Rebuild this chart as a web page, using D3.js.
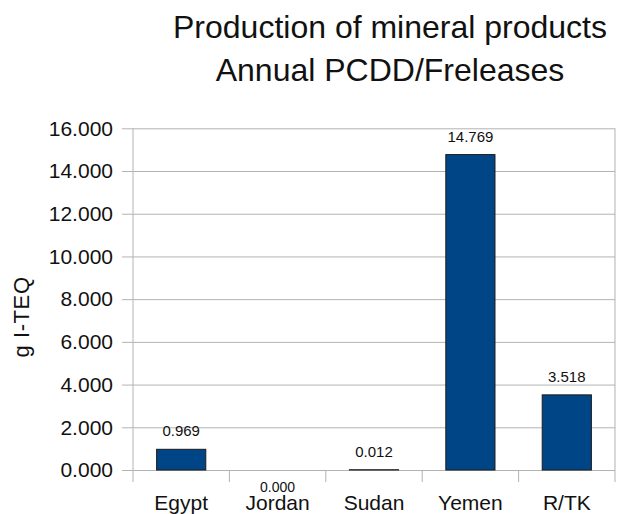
<!DOCTYPE html>
<html>
<head>
<meta charset="utf-8">
<script src="https://cdn.jsdelivr.net/npm/d3@7/dist/d3.min.js"></script>
<style>
  html, body { margin: 0; padding: 0; background: #fff; }
  svg { display: block; font-family: "Liberation Sans", Arial, sans-serif; }
</style>
</head>
<body>
<svg id="chart" width="626" height="514"></svg>
<script>
// Annual PCDD/F releases from production of mineral products, by country
const categories = ["Egypt", "Jordan", "Sudan", "Yemen", "R/TK"];
const releases = [0.969, 0.000, 0.012, 14.769, 3.518];
const yTicks = [0, 2, 4, 6, 8, 10, 12, 14, 16];
const titleLines = ["Production of mineral products", "Annual PCDD/Freleases"];
const yTitle = "g I-TEQ";

const svg = d3.select("#chart");
const plot = { left: 133, right: 615, top: 128.3, bottom: 470 };

const x = d3.scaleBand()
  .domain(categories)
  .range([plot.left, plot.right])
  .paddingInner(0.49)
  .paddingOuter(0.245);

const y = d3.scaleLinear()
  .domain([0, 16])
  .range([plot.bottom, plot.top]);

const fmt = d3.format(".3f");
const gridColor = "#b3b3b3";
const textColor = "#111";

// Horizontal gridlines with tick labels
const yAxis = svg.append("g")
  .attr("transform", `translate(${plot.left},0)`)
  .call(d3.axisLeft(y).tickValues(yTicks).tickFormat(fmt)
    .tickSize(-(plot.right - plot.left)).tickSizeOuter(0).tickPadding(20));
yAxis.select(".domain").remove();
yAxis.selectAll(".tick line").attr("stroke", gridColor).attr("x1", -11);
yAxis.selectAll(".tick text")
  .attr("font-size", 21)
  .attr("font-family", "Liberation Sans, Arial, sans-serif")
  .attr("fill", textColor);

// Plot frame sides
svg.append("g").selectAll("line")
  .data([plot.left, plot.right])
  .join("line")
  .attr("x1", d => d).attr("x2", d => d)
  .attr("y1", plot.top).attr("y2", plot.bottom)
  .attr("stroke", gridColor);

// Category separators below the baseline
const step = x.step();
const seps = categories.map((c, i) => plot.left + i * step).concat([plot.right]);
svg.append("g").selectAll("line")
  .data(seps)
  .join("line")
  .attr("x1", d => d).attr("x2", d => d)
  .attr("y1", plot.bottom).attr("y2", plot.bottom + 12)
  .attr("stroke", gridColor);

const rows = categories.map((c, i) => ({ c, v: releases[i] }));

// Bars
svg.append("g").selectAll("rect")
  .data(rows)
  .join("rect")
  .attr("x", d => x(d.c))
  .attr("width", x.bandwidth())
  .attr("y", d => y(d.v))
  .attr("height", d => y(0) - y(d.v))
  .attr("fill", "#004586")
  .attr("stroke", d => d.v > 0 ? "#1a1a1a" : "none")
  .attr("stroke-width", 1);

// Value labels (a zero value is labelled beneath the baseline)
svg.append("g").selectAll("text")
  .data(rows)
  .join("text")
  .attr("x", d => x(d.c) + x.bandwidth() / 2)
  .attr("y", d => d.v > 0 ? y(d.v) - 13 : y(0) + 22)
  .attr("text-anchor", "middle")
  .attr("font-size", d => d.v > 0 ? 15 : 14)
  .attr("fill", textColor)
  .text(d => fmt(d.v));

// Category labels
svg.append("g").selectAll("text")
  .data(categories)
  .join("text")
  .attr("x", d => x(d) + x.bandwidth() / 2)
  .attr("y", 510)
  .attr("text-anchor", "middle")
  .attr("font-size", 21)
  .attr("fill", textColor)
  .text(d => d);

// Y axis title
svg.append("text")
  .attr("transform", "translate(29,317) rotate(-90)")
  .attr("text-anchor", "middle")
  .attr("font-size", 22)
  .attr("letter-spacing", 0.6)
  .attr("fill", textColor)
  .text(yTitle);

// Chart title
svg.append("g").selectAll("text")
  .data(titleLines)
  .join("text")
  .attr("x", 390)
  .attr("y", (d, i) => 37.5 + i * 43)
  .attr("text-anchor", "middle")
  .attr("font-size", 32)
  .attr("fill", textColor)
  .text(d => d);
</script>
</body>
</html>
